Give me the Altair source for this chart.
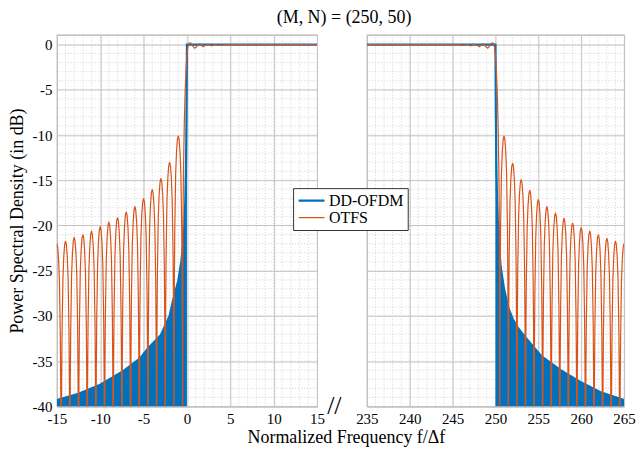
import altair as alt
import pandas as pd

# ---------------- data ----------------
SERIES = ["DD-OFDM", "OTFS"]
COLORS = ["#0072BD", "#D95319"]

# DD-OFDM envelope (out-of-band part is a solid filled region down to -40 dB)
BLUE_LEFT_X = [-15, -12.5, -10, -7.5, -5.4, -4.5, -3, -2, -1.6, -1.0, -0.65, -0.34, -0.19, -0.1, -0.04, 0, 15]
BLUE_LEFT_DB = [-39.3, -38.6, -37.6, -36.2, -34.7, -33.6, -32.1, -30.0, -28.3, -26.1, -24.0, -21.0, -17.3, -13.0, -7.0, 0, 0]
BLUE_RIGHT_X = [235, 250, 250.04, 250.1, 250.19, 250.34, 250.6, 251.0, 251.5, 252.0, 252.6, 253.6, 255.3, 257.6, 259.9, 262.2, 265]
BLUE_RIGHT_DB = [0, 0, -7, -13, -17.3, -21, -24.5, -27, -29.1, -30.3, -31.3, -32.5, -34.4, -36.0, -37.3, -38.4, -39.3]

# OTFS side-lobe peaks (one lobe per integer frequency, nulls at half integers)
LOBE_K_LEFT = [-1, -2, -3, -4, -5, -6, -7, -8, -9, -10, -11, -12, -13, -14, -15, -16]
LOBE_PEAK_LEFT = [-10.1, -13.0, -14.8, -16.0, -17.0, -17.9, -18.5, -19.1, -19.6, -20.1, -20.6, -21.0, -21.3, -21.7, -22.0, -22.3]
LOBE_K_RIGHT = [251, 252, 253, 254, 255, 256, 257, 258, 259, 260, 261, 262, 263, 264, 265, 266]
LOBE_PEAK_RIGHT = [-10.1, -13.1, -14.9, -16.1, -17.1, -17.9, -18.6, -19.2, -19.7, -20.2, -20.6, -21.0, -21.4, -21.7, -22.0, -22.3]
# shape of one lobe, read relative to its peak
LOBE_OFFSET = [-0.5, -0.48, -0.45, -0.4, -0.3, -0.2, -0.1, 0.0, 0.1, 0.2, 0.3, 0.4, 0.45, 0.48]
LOBE_DROP = [-40, -24, -16, -10.2, -4.2, -1.7, -0.4, 0.0, -0.4, -1.7, -4.2, -10.2, -16, -24]

# OTFS in-band part with ripples near the band edges
ORANGE_LEFT_X = [-0.5, -0.47, -0.44, -0.4, -0.3, -0.2, -0.1, 0.0, 0.1, 0.25, 0.45, 0.7, 0.9, 1.1, 1.35, 1.6, 1.85, 2.1, 2.4, 2.85, 3.2, 3.85, 4.3, 15]
ORANGE_LEFT_DB = [-50, -24, -18, -14, -8.5, -5, -2.8, -1.2, -0.3, 0.15, 0.15, -0.2, -0.4, -0.25, 0.05, 0.05, -0.25, -0.1, 0.05, -0.15, 0.0, -0.08, 0.0, 0.0]
ORANGE_RIGHT_X = [235, 245.7, 246.15, 246.8, 247.15, 247.6, 247.9, 248.15, 248.4, 248.65, 248.9, 249.1, 249.3, 249.55, 249.75, 249.9, 250.0, 250.1, 250.2, 250.3, 250.4, 250.44, 250.47]
ORANGE_RIGHT_DB = [0, 0, -0.08, 0, -0.15, 0.05, -0.1, -0.25, 0.05, 0.05, -0.25, -0.4, -0.2, 0.15, 0.15, -0.3, -1.2, -2.8, -5, -8.5, -14, -18, -24]

MAJOR_X_LEFT = [-15, -10, -5, 0, 5, 10, 15]
MAJOR_X_RIGHT = [235, 240, 245, 250, 255, 260, 265]
MAJOR_Y = [0, -5, -10, -15, -20, -25, -30, -35, -40]
MINOR_X_LEFT = list(range(-15, 16))
MINOR_X_RIGHT = list(range(235, 266))
MINOR_Y = list(range(-40, 2))

FONT = "Liberation Serif"


def lobes(ks, peaks):
    xs, ys = [], []
    for k, p in zip(ks, peaks):
        for o, d in zip(LOBE_OFFSET, LOBE_DROP):
            xs.append(k + o)
            ys.append(p + d)
    return xs, ys


lx, ly = lobes(LOBE_K_LEFT, LOBE_PEAK_LEFT)
orange_left = pd.DataFrame({"x": lx + ORANGE_LEFT_X, "y": ly + ORANGE_LEFT_DB})
orange_left = orange_left.sort_values("x")
orange_left["s"] = "OTFS"

rx, ry = lobes(LOBE_K_RIGHT, LOBE_PEAK_RIGHT)
orange_right = pd.DataFrame({"x": ORANGE_RIGHT_X + rx, "y": ORANGE_RIGHT_DB + ry})
orange_right = orange_right.sort_values("x")
orange_right["s"] = "OTFS"

blue_left = pd.DataFrame({"x": BLUE_LEFT_X, "y": BLUE_LEFT_DB, "s": "DD-OFDM"})
blue_right = pd.DataFrame({"x": BLUE_RIGHT_X, "y": BLUE_RIGHT_DB, "s": "DD-OFDM"})
area_left = blue_left[blue_left["x"] <= 0]
area_right = blue_right[blue_right["x"] >= 250]

legend = alt.Legend(
    title=None, orient="none", legendX=237, legendY=154,
    symbolType="stroke", symbolSize=676, clipHeight=17,
    labelFont=FONT, labelFontSize=16, labelColor="#000",
    fillColor="white", strokeColor="#333", padding=4,
    rowPadding=0, labelOffset=3,
)
color = alt.Color("s:N", scale=alt.Scale(domain=SERIES, range=COLORS), legend=legend)
width_enc = alt.StrokeWidth("s:N", scale=alt.Scale(domain=SERIES, range=[2.2, 1.2]), legend=legend)


def panel(blue, area, orange, minor_x, major_x, domain, show_y, w, xaxis_title):
    xs = alt.Scale(domain=domain, nice=False, zero=False)
    ys = alt.Scale(domain=[-40, 1.1], nice=False, zero=False)
    xaxis = alt.Axis(
        values=major_x, grid=True, ticks=False, domain=False,
        labelPadding=5, labelFlush=False, labelExpr="'' + datum.value",
        title=xaxis_title if xaxis_title else None,
        titleX=290, titlePadding=2,
    )
    if show_y:
        yaxis = alt.Axis(
            values=MAJOR_Y, grid=True, ticks=False, domain=False,
            labelPadding=5, labelExpr="'' + datum.value",
            title="Power Spectral Density (in dB)", titlePadding=5,
        )
    else:
        yaxis = alt.Axis(
            values=MAJOR_Y, grid=True, ticks=False, domain=False,
            labels=False, title=None,
        )
    X = alt.X("x:Q", scale=xs, axis=xaxis)
    Y = alt.Y("y:Q", scale=ys, axis=yaxis)

    vgrid = alt.Chart(pd.DataFrame({"x": minor_x})).mark_rule(
        color="#c8c8c8", strokeWidth=0.8, strokeDash=[1, 2]
    ).encode(x=X)
    hgrid = alt.Chart(pd.DataFrame({"y": MINOR_Y})).mark_rule(
        color="#c8c8c8", strokeWidth=0.8, strokeDash=[1, 2]
    ).encode(y=Y)
    fill = alt.Chart(area).mark_area(color=COLORS[0], clip=True).encode(
        x=X, y=Y, y2=alt.datum(-40)
    )
    bl = alt.Chart(blue).mark_line(clip=True).encode(
        x=X, y=Y, color=color, strokeWidth=width_enc
    )
    ol = alt.Chart(orange).mark_line(clip=True).encode(
        x=X, y=Y, color=color, strokeWidth=width_enc
    )
    layers = [vgrid, hgrid, fill, bl, ol]
    if show_y:
        brk = alt.Chart(pd.DataFrame({"t": ["//"]})).mark_text(
            font=FONT, fontSize=26, color="#000", clip=False
        ).encode(x=alt.datum(17.0), y=alt.datum(-40), text="t:N")
        layers.append(brk)
    return alt.layer(*layers).properties(width=w, height=373)


left = panel(blue_left, area_left, orange_left, MINOR_X_LEFT, MAJOR_X_LEFT,
             [-15, 15], True, 261, "Normalized Frequency  f/Δf")
right = panel(blue_right, area_right, orange_right, MINOR_X_RIGHT, MAJOR_X_RIGHT,
              [235, 265], False, 258, None)

chart = alt.hconcat(left, right, spacing=50, bounds="flush").properties(
    title=alt.TitleParams(
        "(M, N) = (250, 50)", font=FONT, fontSize=18, fontWeight="normal",
        color="#000", anchor="middle", offset=7, dx=22,
    ),
    background="white",
    padding=0,
).resolve_scale(color="shared", strokeWidth="shared").configure_view(
    stroke="#9a9a9a", strokeWidth=1
).configure_axis(
    labelFont=FONT, labelFontSize=15, labelColor="#000",
    titleFont=FONT, titleFontSize=18, titleFontWeight="normal", titleColor="#000",
    gridColor="#c4c4c4", gridWidth=1,
)

chart.save("out.html", embed_options={"renderer": "svg", "actions": False})
